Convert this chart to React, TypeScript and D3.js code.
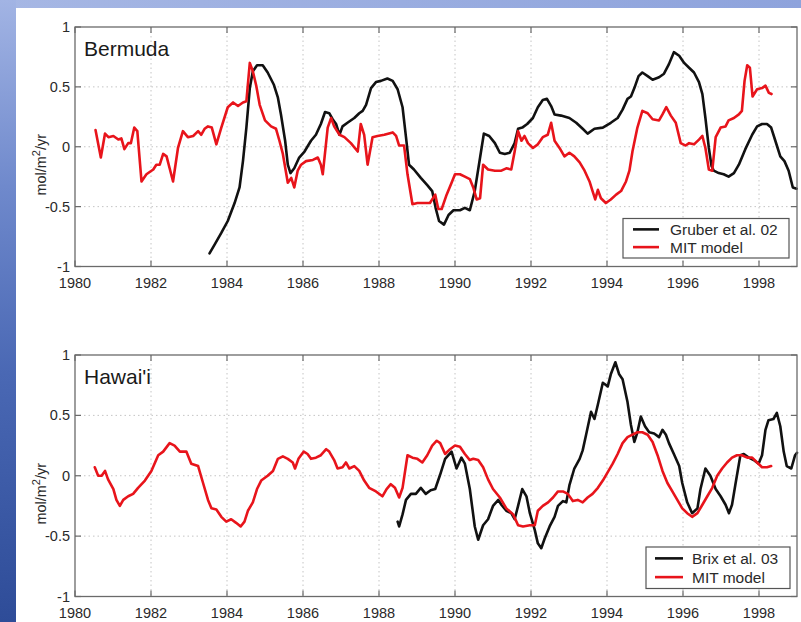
import React from "react";
import * as d3 from "d3";

// Bermuda: MIT model (red)
const bermudaModelYears = [
  1980.54, 1980.68, 1980.79, 1980.88, 1981.01, 1981.14, 1981.22, 1981.3, 1981.4, 1981.47,
  1981.56, 1981.64, 1981.75, 1981.88, 1982.06, 1982.14, 1982.23, 1982.32, 1982.41, 1982.49,
  1982.58, 1982.71, 1982.84, 1982.97, 1983.11, 1983.24, 1983.32, 1983.41, 1983.5, 1983.6,
  1983.72, 1983.85, 1984.02, 1984.16, 1984.29, 1984.42, 1984.51, 1984.6, 1984.68, 1984.77,
  1984.86, 1985.0, 1985.16, 1985.29, 1985.38, 1985.47, 1985.6, 1985.69, 1985.77, 1985.86,
  1985.95, 1986.08, 1986.26, 1986.39, 1986.47, 1986.52, 1986.65, 1986.74, 1986.82, 1986.96,
  1987.09, 1987.26, 1987.44, 1987.52, 1987.61, 1987.7, 1987.83, 1987.96, 1988.14, 1988.36,
  1988.45, 1988.53, 1988.66, 1988.75, 1988.88, 1989.01, 1989.19, 1989.34, 1989.48, 1989.56,
  1989.65, 1989.78, 1989.91, 1990.0, 1990.13, 1990.26, 1990.39, 1990.48, 1990.57, 1990.66,
  1990.74, 1990.87, 1991.05, 1991.22, 1991.35, 1991.48, 1991.57, 1991.66, 1991.75, 1991.83,
  1991.92, 1992.05, 1992.18, 1992.31, 1992.44, 1992.53, 1992.62, 1992.75, 1992.88, 1993.01,
  1993.14, 1993.28, 1993.41, 1993.54, 1993.62, 1993.69, 1993.76, 1993.84, 1993.97, 1994.1,
  1994.24, 1994.37, 1994.5, 1994.59, 1994.67, 1994.8, 1994.93, 1995.07, 1995.2, 1995.37,
  1995.46, 1995.56, 1995.68, 1995.81, 1995.94, 1996.07, 1996.16, 1996.29, 1996.42, 1996.51,
  1996.59, 1996.68, 1996.77, 1996.86, 1996.99, 1997.12, 1997.2, 1997.34, 1997.47, 1997.55,
  1997.62, 1997.69, 1997.76, 1997.83, 1997.95, 1998.08, 1998.17, 1998.26, 1998.33,
];
const bermudaModelValues = [
  0.14, -0.09, 0.11, 0.08, 0.09, 0.06, 0.07, -0.02, 0.03, 0.03,
  0.16, 0.13, -0.29, -0.23, -0.19, -0.15, -0.15, -0.06, -0.08, -0.18,
  -0.29, -0.01, 0.13, 0.08, 0.09, 0.13, 0.1, 0.15, 0.17, 0.16,
  0.02, 0.16, 0.33, 0.37, 0.34, 0.37, 0.38, 0.7, 0.63, 0.51,
  0.35, 0.22, 0.17, 0.15, 0.05, -0.06, -0.3, -0.26, -0.34, -0.2,
  -0.15, -0.12, -0.11, -0.09, -0.15, -0.23, 0.16, 0.24, 0.17, 0.1,
  0.08, 0.03, -0.04, 0.19, 0.1, -0.15, 0.08, 0.09, 0.1, 0.12,
  0.09, 0.01, 0.01, -0.23, -0.48, -0.47, -0.47, -0.47, -0.4, -0.52,
  -0.52, -0.4, -0.3, -0.23, -0.23, -0.25, -0.27, -0.34, -0.44, -0.43,
  -0.15, -0.19, -0.2, -0.2, -0.18, -0.19, -0.04, 0.13, 0.05, 0.09,
  0.03, -0.01, 0.02, 0.08, 0.1, 0.2, 0.05, -0.01, -0.08, -0.05,
  -0.08, -0.13, -0.2, -0.29, -0.37, -0.44, -0.36, -0.43, -0.47, -0.44,
  -0.4, -0.37, -0.29, -0.2, -0.04, 0.16, 0.3, 0.28, 0.23, 0.22,
  0.27, 0.33, 0.26, 0.2, 0.03, 0.01, 0.03, 0.02, 0.06, 0.09,
  -0.01, -0.19, -0.2, 0.08, 0.16, 0.17, 0.22, 0.24, 0.27, 0.3,
  0.55, 0.68, 0.66, 0.42, 0.48, 0.49, 0.51, 0.45, 0.44,
];

// Bermuda: Gruber et al. 02 (black)
const bermudaGruberYears = [
  1983.54, 1983.67, 1983.85, 1984.02, 1984.2, 1984.33, 1984.42, 1984.51, 1984.6, 1984.68,
  1984.79, 1984.94, 1985.07, 1985.23, 1985.34, 1985.42, 1985.53, 1985.6, 1985.67, 1985.77,
  1985.9, 1986.04, 1986.21, 1986.34, 1986.47, 1986.58, 1986.69, 1986.78, 1986.87, 1986.96,
  1987.04, 1987.17, 1987.35, 1987.48, 1987.57, 1987.66, 1987.79, 1987.92, 1988.05, 1988.22,
  1988.36, 1988.49, 1988.62, 1988.71, 1988.79, 1988.92, 1989.1, 1989.27, 1989.4, 1989.49,
  1989.58, 1989.71, 1989.83, 1989.96, 1990.13, 1990.26, 1990.39, 1990.52, 1990.66, 1990.76,
  1990.9, 1991.05, 1991.18, 1991.31, 1991.44, 1991.57, 1991.66, 1991.77, 1991.9, 1992.05,
  1992.18, 1992.31, 1992.42, 1992.53, 1992.62, 1992.79, 1993.01, 1993.19, 1993.36, 1993.49,
  1993.67, 1993.89, 1994.1, 1994.28, 1994.41, 1994.54, 1994.63, 1994.72, 1994.83, 1994.93,
  1995.07, 1995.2, 1995.37, 1995.5, 1995.63, 1995.76, 1995.9, 1996.03, 1996.16, 1996.29,
  1996.42, 1996.51, 1996.59, 1996.68, 1996.75, 1996.81, 1996.94, 1997.07, 1997.2, 1997.34,
  1997.47, 1997.64, 1997.82, 1997.95, 1998.08, 1998.21, 1998.32, 1998.43, 1998.56, 1998.67,
  1998.78, 1998.89, 1998.99,
];
const bermudaGruberValues = [
  -0.89, -0.82, -0.72, -0.62, -0.47, -0.34, -0.12, 0.16, 0.49, 0.63,
  0.68, 0.68, 0.62, 0.52, 0.41, 0.27, 0.05, -0.15, -0.22, -0.18,
  -0.09, -0.04, 0.05, 0.1, 0.19, 0.29, 0.28, 0.23, 0.19, 0.1,
  0.17, 0.2, 0.24, 0.28, 0.3, 0.35, 0.49, 0.54, 0.55, 0.57,
  0.55, 0.48, 0.33, 0.08, -0.15, -0.19, -0.26, -0.32, -0.37, -0.51,
  -0.62, -0.65, -0.57, -0.53, -0.53, -0.51, -0.53, -0.37, -0.09, 0.11,
  0.09, 0.03, -0.05, -0.06, -0.05, 0.03, 0.15, 0.16, 0.19, 0.24,
  0.33, 0.39, 0.4, 0.34, 0.27, 0.26, 0.24, 0.2, 0.15, 0.11,
  0.15, 0.16, 0.2, 0.24, 0.31, 0.4, 0.42, 0.49, 0.59, 0.62,
  0.59, 0.56, 0.58, 0.61, 0.69, 0.79, 0.76, 0.7, 0.66, 0.62,
  0.54, 0.44, 0.24, -0.01, -0.16, -0.2, -0.22, -0.23, -0.25, -0.22,
  -0.15, -0.02, 0.1, 0.17, 0.19, 0.19, 0.16, 0.05, -0.08, -0.12,
  -0.2, -0.34, -0.35,
];

// Hawai'i: MIT model (red)
const hawaiiModelYears = [
  1980.52, 1980.61, 1980.7, 1980.79, 1980.87, 1981.01, 1981.09, 1981.18, 1981.27, 1981.4,
  1981.53, 1981.66, 1981.84, 1982.01, 1982.19, 1982.32, 1982.49, 1982.62, 1982.76, 1982.93,
  1983.06, 1983.24, 1983.37, 1983.5, 1983.59, 1983.72, 1983.85, 1983.98, 1984.11, 1984.24,
  1984.36, 1984.46, 1984.55, 1984.68, 1984.79, 1984.9, 1985.07, 1985.21, 1985.34, 1985.47,
  1985.6, 1985.73, 1985.79, 1985.88, 1986.02, 1986.12, 1986.21, 1986.34, 1986.47, 1986.61,
  1986.69, 1986.82, 1986.91, 1987.04, 1987.13, 1987.22, 1987.35, 1987.48, 1987.61, 1987.74,
  1987.92, 1988.09, 1988.2, 1988.31, 1988.42, 1988.53, 1988.62, 1988.75, 1988.88, 1989.01,
  1989.14, 1989.27, 1989.4, 1989.52, 1989.61, 1989.74, 1989.87, 1990.0, 1990.13, 1990.26,
  1990.39, 1990.48, 1990.61, 1990.74, 1990.87, 1991.0, 1991.18, 1991.35, 1991.53, 1991.66,
  1991.79, 1991.97, 1992.1, 1992.18, 1992.31, 1992.45, 1992.58, 1992.71, 1992.84, 1992.97,
  1993.1, 1993.23, 1993.36, 1993.49, 1993.62, 1993.76, 1993.89, 1994.02, 1994.15, 1994.28,
  1994.41, 1994.54, 1994.67, 1994.8, 1994.93, 1995.07, 1995.2, 1995.33, 1995.46, 1995.59,
  1995.72, 1995.85, 1995.98, 1996.11, 1996.24, 1996.38, 1996.51, 1996.64, 1996.77, 1996.9,
  1997.03, 1997.16, 1997.29, 1997.42, 1997.55, 1997.69, 1997.82, 1997.95, 1998.08, 1998.21,
  1998.32,
];
const hawaiiModelValues = [
  0.07, 0.0, 0.0, 0.04, -0.03, -0.11, -0.2, -0.25, -0.2, -0.17,
  -0.15, -0.1, -0.04, 0.04, 0.17, 0.2, 0.27, 0.25, 0.2, 0.2,
  0.1, 0.08, -0.06, -0.2, -0.27, -0.28, -0.34, -0.38, -0.36, -0.39,
  -0.42, -0.38, -0.29, -0.22, -0.11, -0.04, 0.0, 0.04, 0.14, 0.16,
  0.14, 0.11, 0.06, 0.14, 0.2, 0.18, 0.14, 0.15, 0.17, 0.22,
  0.2, 0.13, 0.06, 0.07, 0.11, 0.06, 0.08, 0.04, -0.04, -0.1,
  -0.13, -0.17, -0.11, -0.07, -0.1, -0.18, -0.1, 0.17, 0.15, 0.14,
  0.11, 0.17, 0.25, 0.29, 0.27, 0.18, 0.22, 0.25, 0.24, 0.18,
  0.13, 0.14, 0.13, 0.07, -0.03, -0.11, -0.18, -0.27, -0.32, -0.41,
  -0.42, -0.41, -0.41, -0.29, -0.25, -0.22, -0.18, -0.13, -0.13, -0.15,
  -0.21, -0.2, -0.22, -0.18, -0.15, -0.1, -0.04, 0.03, 0.1, 0.18,
  0.27, 0.32, 0.34, 0.36, 0.36, 0.34, 0.28, 0.17, 0.04, -0.06,
  -0.13, -0.2, -0.27, -0.31, -0.34, -0.31, -0.24, -0.17, -0.1, 0.0,
  0.06, 0.11, 0.15, 0.17, 0.17, 0.15, 0.15, 0.11, 0.07, 0.07,
  0.08,
];

// Hawai'i: Brix et al. 03 (black)
const hawaiiBrixYears = [
  1988.49, 1988.53, 1988.62, 1988.71, 1988.84, 1988.97, 1989.1, 1989.23, 1989.36, 1989.48,
  1989.61, 1989.74, 1989.91, 1990.04, 1990.17, 1990.26, 1990.39, 1990.52, 1990.61, 1990.74,
  1990.87, 1991.0, 1991.14, 1991.22, 1991.35, 1991.48, 1991.57, 1991.66, 1991.77, 1991.88,
  1991.97, 1992.1, 1992.18, 1992.27, 1992.36, 1992.49, 1992.62, 1992.71, 1992.84, 1992.93,
  1993.01, 1993.14, 1993.28, 1993.36, 1993.45, 1993.58, 1993.67, 1993.76, 1993.89, 1994.02,
  1994.1, 1994.22, 1994.32, 1994.41, 1994.54, 1994.63, 1994.72, 1994.8, 1994.89, 1995.0,
  1995.11, 1995.24, 1995.37, 1995.46, 1995.55, 1995.63, 1995.76, 1995.9, 1995.98, 1996.11,
  1996.24, 1996.38, 1996.46, 1996.59, 1996.72, 1996.86, 1996.99, 1997.12, 1997.21, 1997.29,
  1997.38, 1997.51, 1997.6, 1997.73, 1997.86, 1997.99, 1998.08, 1998.17, 1998.25, 1998.38,
  1998.47, 1998.56, 1998.65, 1998.73, 1998.85, 1998.95, 1999.0,
];
const hawaiiBrixValues = [
  -0.38, -0.42, -0.32, -0.2, -0.15, -0.15, -0.1, -0.15, -0.12, -0.11,
  0.01, 0.14, 0.2, 0.06, 0.15, 0.1, -0.11, -0.42, -0.53, -0.41,
  -0.36, -0.25, -0.2, -0.24, -0.29, -0.31, -0.36, -0.25, -0.11, -0.17,
  -0.31, -0.45, -0.56, -0.6, -0.52, -0.42, -0.34, -0.25, -0.21, -0.22,
  -0.08, 0.06, 0.14, 0.21, 0.34, 0.53, 0.47, 0.59, 0.77, 0.74,
  0.84, 0.94, 0.84, 0.8, 0.61, 0.42, 0.28, 0.36, 0.49, 0.41,
  0.36, 0.35, 0.32, 0.38, 0.34, 0.27, 0.18, 0.08, -0.06, -0.22,
  -0.31, -0.27, -0.11, 0.06, 0.0, -0.11, -0.17, -0.24, -0.31, -0.24,
  -0.07, 0.17, 0.18, 0.15, 0.13, 0.1, 0.17, 0.38, 0.46, 0.47,
  0.52, 0.41, 0.2, 0.08, 0.06, 0.17, 0.19,
];

const yearTicks = [1980, 1982, 1984, 1986, 1988, 1990, 1992, 1994, 1996, 1998];
const valueTicks = [-1, -0.5, 0, 0.5, 1];
const valueTickLabels = ["-1", "-0.5", "0", "0.5", "1"];

const FONT = "'Liberation Sans', Arial, Helvetica, sans-serif";
const RED = "#e8141b";
const BLACK = "#111111";

type Series = { years: number[]; values: number[]; color: string; name: string };

const x = d3.scaleLinear().domain([1980, 1999]).range([75, 797]);

function Panel({
  top,
  bottom,
  title,
  series,
  legend,
}: {
  top: number;
  bottom: number;
  title: string;
  series: Series[];
  legend: { x0: number; x1: number; y0: number; y1: number; lineX0: number; lineX1: number; textX: number };
}) {
  const y = d3.scaleLinear().domain([-1, 1]).range([bottom, top]);
  const [xl, xr] = x.range();
  const line = (s: Series) =>
    d3
      .line<number>()
      .x((_, i) => x(s.years[i]))
      .y((v) => y(v))(s.values) || "";
  const rowH = (legend.y1 - legend.y0) / 2;
  return (
    <g>
      {/* dotted grid */}
      {yearTicks.slice(1).map((t) => (
        <line key={"gx" + t} x1={x(t)} x2={x(t)} y1={top} y2={bottom} stroke="#c4c4c4" strokeWidth={1} strokeDasharray="1.5 3" />
      ))}
      {valueTicks.slice(1, -1).map((t) => (
        <line key={"gy" + t} x1={xl} x2={xr} y1={y(t)} y2={y(t)} stroke="#c4c4c4" strokeWidth={1} strokeDasharray="1.5 3" />
      ))}
      {/* data lines */}
      {series.map((s) => (
        <path key={s.name} d={line(s)} fill="none" stroke={s.color} strokeWidth={2.6} strokeLinejoin="round" strokeLinecap="round" />
      ))}
      {/* axes box and ticks */}
      <rect x={xl} y={top} width={xr - xl} height={bottom - top} fill="none" stroke="#6a6a6a" strokeWidth={1.3} />
      {yearTicks.map((t) => (
        <g key={"tx" + t}>
          <line x1={x(t)} x2={x(t)} y1={bottom} y2={bottom - 6} stroke="#6a6a6a" strokeWidth={1.2} />
          <line x1={x(t)} x2={x(t)} y1={top} y2={top + 6} stroke="#6a6a6a" strokeWidth={1.2} />
          <text x={x(t)} y={bottom + 21} textAnchor="middle" fontFamily={FONT} fontSize={14.5} fill="#2a2a2a">
            {t}
          </text>
        </g>
      ))}
      {valueTicks.map((t, i) => (
        <g key={"ty" + t}>
          <line x1={xl} x2={xl + 6} y1={y(t)} y2={y(t)} stroke="#6a6a6a" strokeWidth={1.2} />
          <line x1={xr} x2={xr - 6} y1={y(t)} y2={y(t)} stroke="#6a6a6a" strokeWidth={1.2} />
          <text x={xl - 5} y={y(t) + 5} textAnchor="end" fontFamily={FONT} fontSize={14.5} fill="#2a2a2a">
            {valueTickLabels[i]}
          </text>
        </g>
      ))}
      {/* y-axis label */}
      <text
        transform={`translate(46, ${(top + bottom) / 2 + 18}) rotate(-90)`}
        textAnchor="middle"
        fontFamily={FONT}
        fontSize={14.5}
        fill="#2a2a2a"
      >
        mol/m
        <tspan dy={-6} fontSize={11}>2</tspan>
        <tspan dy={6}>/yr</tspan>
      </text>
      {/* panel title */}
      <text x={84} y={top + 29} fontFamily={FONT} fontSize={21} fill="#1a1a1a">
        {title}
      </text>
      {/* legend */}
      <rect x={legend.x0} y={legend.y0} width={legend.x1 - legend.x0} height={legend.y1 - legend.y0} fill="#ffffff" stroke="#555" strokeWidth={1.2} />
      {series.map((s, i) => {
        const cy = legend.y0 + rowH * (i + 0.5) + (i === 0 ? 1 : -1);
        return (
          <g key={"lg" + s.name}>
            <line x1={legend.lineX0} x2={legend.lineX1} y1={cy} y2={cy} stroke={s.color} strokeWidth={2.6} />
            <text x={legend.textX} y={cy + 5.5} fontFamily={FONT} fontSize={15.5} fill="#2a2a2a">
              {s.name}
            </text>
          </g>
        );
      })}
    </g>
  );
}

export default function App() {
  const bermuda: Series[] = [
    { years: bermudaGruberYears, values: bermudaGruberValues, color: BLACK, name: "Gruber et al. 02" },
    { years: bermudaModelYears, values: bermudaModelValues, color: RED, name: "MIT model" },
  ];
  const hawaii: Series[] = [
    { years: hawaiiBrixYears, values: hawaiiBrixValues, color: BLACK, name: "Brix et al. 03" },
    { years: hawaiiModelYears, values: hawaiiModelValues, color: RED, name: "MIT model" },
  ];
  return (
    <svg width={801} height={622} style={{ position: "absolute", left: 0, top: 0 }}>
      <defs>
        <linearGradient id="sideBand" x1="0" y1="0" x2="0" y2="1">
          <stop offset="0" stopColor="#a2b4e4" />
          <stop offset="0.3" stopColor="#6f89cc" />
          <stop offset="0.6" stopColor="#4a68b4" />
          <stop offset="1" stopColor="#2e4c98" />
        </linearGradient>
        <linearGradient id="topBand" x1="0" y1="0" x2="1" y2="0">
          <stop offset="0" stopColor="#a6b7e4" />
          <stop offset="1" stopColor="#8ea3dc" />
        </linearGradient>
      </defs>
      <rect x={0} y={0} width={801} height={622} fill="#ffffff" />
      <rect x={0} y={0} width={801} height={8} fill="url(#topBand)" />
      <rect x={0} y={0} width={16} height={622} fill="url(#sideBand)" />
      <Panel
        top={27}
        bottom={266.5}
        title="Bermuda"
        series={bermuda}
        legend={{ x0: 623, x1: 789, y0: 218.5, y1: 258, lineX0: 633, lineX1: 659, textX: 670 }}
      />
      <Panel
        top={355}
        bottom={596.5}
        title="Hawai'i"
        series={hawaii}
        legend={{ x0: 646, x1: 790, y0: 547, y1: 588.5, lineX0: 655, lineX1: 683, textX: 692 }}
      />
    </svg>
  );
}
